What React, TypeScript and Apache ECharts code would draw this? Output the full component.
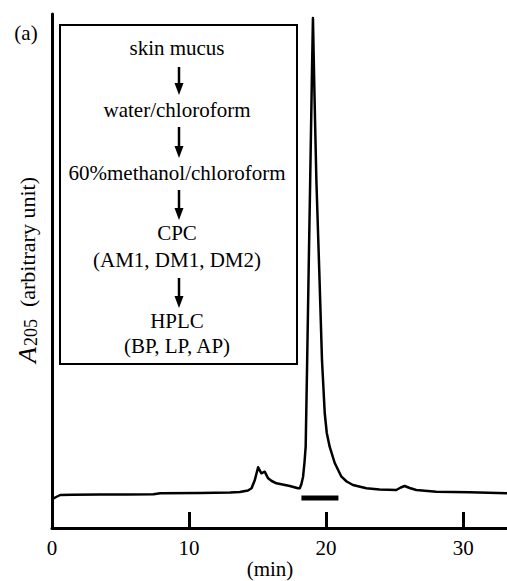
import React, { useEffect, useRef } from "react";
import * as echarts from "echarts";

const times = [0, 0.3, 0.6, 1.5, 3.5, 5.5, 7.4, 7.9, 10.8, 13.0, 13.7, 14.3, 14.56, 14.8, 15.04, 15.28, 15.52, 15.77, 16.03, 16.38, 17.35, 17.95, 18.08, 18.2, 18.32, 18.42, 18.51, 18.62, 18.73, 18.84, 18.96, 19.04, 19.16, 19.29, 19.5, 19.7, 19.9, 20.05, 20.26, 20.63, 21.12, 21.5, 21.96, 22.94, 23.9, 25.12, 25.45, 25.73, 26.1, 26.58, 28.04, 30.47, 33.2];
const absorbance = [28.7, 31, 33, 33.3, 33.5, 33.6, 33.7, 34.7, 35, 35.5, 36, 37.5, 39.7, 48, 60.7, 54.7, 56.3, 49.7, 47, 44.7, 42, 39.7, 39.7, 44, 51.3, 65, 81.3, 168, 260, 348, 448, 510, 428, 348, 258, 168, 115, 95, 81.3, 65, 51.3, 46.5, 43, 39.7, 38.5, 38, 40.5, 42, 40, 38, 36.3, 35.7, 34.7];

const fractionTimes = [18.2, 20.9];
const fractionLevel = 30;

const xMin = 0;
const xMax = 33.2;
const xInterval = 10;
const yMax = 514;

const flowSteps = ["skin mucus", "water/chloroform", "60%methanol/chloroform", "CPC", "(AM1, DM1, DM2)", "HPLC", "(BP, LP, AP)"];
const panelLabel = "(a)";
const xAxisTitle = "(min)";

const FONT = "Liberation Serif, Times New Roman, serif";

export default function App() {
  const ref = useRef<HTMLDivElement>(null);

  useEffect(() => {
    if (!ref.current) return;
    const chart = echarts.init(ref.current, undefined, { renderer: "svg" });

    const stepY = [48, 110, 173, 233, 260, 321, 346];
    const arrows = [
      [67, 95],
      [127, 158],
      [190, 220],
      [278, 308],
    ];
    const ax = 179;

    const txt = (x: number, y: number, text: string, size = 21) => ({
      type: "text",
      x,
      y,
      style: {
        text,
        fontFamily: FONT,
        fontSize: size,
        fill: "#000",
        align: "center",
        verticalAlign: "middle",
      },
    });

    const graphics: any[] = [
      {
        type: "rect",
        shape: { x: 60, y: 25, width: 237, height: 339 },
        style: { fill: "none", stroke: "#000", lineWidth: 2 },
      },
      txt(26, 33, panelLabel),
      txt(270, 569, xAxisTitle),
      {
        type: "text",
        x: 27,
        y: 270,
        rotation: Math.PI / 2,
        style: {
          text: "{i|A}{s|205}{n|(arbitrary unit)}",
          align: "center",
          verticalAlign: "middle",
          fill: "#000",
          rich: {
            i: { fontFamily: FONT, fontSize: 26, fontStyle: "italic", fill: "#000", padding: [0, 1, 0, 0] },
            s: { fontFamily: FONT, fontSize: 18, fill: "#000", verticalAlign: "bottom", padding: [0, 12, 0, 0] },
            n: { fontFamily: FONT, fontSize: 22, fill: "#000" },
          },
        },
      },
    ];

    flowSteps.forEach((t, i) => {
      graphics.push(txt(177, stepY[i], t));
    });

    arrows.forEach(([y1, y2]) => {
      graphics.push({
        type: "line",
        shape: { x1: ax, y1, x2: ax, y2: y2 - 10 },
        style: { stroke: "#000", lineWidth: 2.5 },
      });
      graphics.push({
        type: "polygon",
        shape: { points: [[ax - 4.5, y2 - 12], [ax + 4.5, y2 - 12], [ax, y2]] },
        style: { fill: "#000" },
      });
    });

    chart.setOption({
      animation: false,
      backgroundColor: "#fff",
      textStyle: { fontFamily: FONT },
      grid: { left: 52, right: 0, top: 14, bottom: 53, containLabel: false, outerBoundsMode: "none" },
      xAxis: {
        type: "value",
        min: xMin,
        max: xMax,
        interval: xInterval,
        axisLine: { show: true, lineStyle: { color: "#000", width: 3 } },
        axisTick: { show: true, inside: true, length: 16, lineStyle: { color: "#000", width: 3 } },
        axisLabel: {
          color: "#000",
          fontSize: 21,
          fontFamily: FONT,
          margin: 9,
          showMaxLabel: false,
        },
        splitLine: { show: false },
      },
      yAxis: {
        type: "value",
        min: 0,
        max: yMax,
        axisLine: { show: true, lineStyle: { color: "#000", width: 3 } },
        axisTick: { show: false },
        axisLabel: { show: false },
        splitLine: { show: false },
      },
      series: [
        {
          type: "line",
          data: times.map((t, i) => [t, absorbance[i]]),
          showSymbol: false,
          smooth: false,
          lineStyle: { color: "#000", width: 2.5, join: "round" },
        },
        {
          type: "line",
          data: fractionTimes.map((t) => [t, fractionLevel]),
          showSymbol: false,
          lineStyle: { color: "#000", width: 5, cap: "butt" },
        },
      ],
      graphic: graphics,
    });

    return () => chart.dispose();
  }, []);

  return (
    <div
      ref={ref}
      style={{ position: "fixed", left: 0, top: 0, width: 507, height: 581, background: "#fff" }}
    />
  );
}
